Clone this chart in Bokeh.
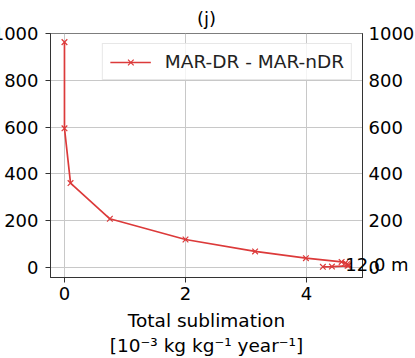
from bokeh.plotting import figure
from bokeh.models import LinearAxis, FixedTicker, Range1d, Label
from bokeh.embed import file_html
from bokeh.resources import INLINE

# ---- data ----
heights = [965, 595, 360, 207, 118, 67, 38, 22, 17, 12, 8, 5, 2, 1]
sublimation = [0.0, 0.0, 0.10, 0.75, 2.00, 3.15, 3.99, 4.58, 4.64, 4.67, 4.70, 4.68, 4.42, 4.27]
y_ticks = [0, 200, 400, 600, 800, 1000]
x_ticks = [0, 2, 4]
series_name = "MAR-DR - MAR-nDR"
title_text = "(j)"
x_label = "Total sublimation\n[10⁻³ kg kg⁻¹ year⁻¹]"
note_text = "12.0 m"
note_x = 4.64
note_y = 12

FONT = "DejaVu Sans"
FS = "18px"
FSL = "18.5px"
RED = "#dc3a3a"

p = figure(frame_width=312, frame_height=244,
           x_range=Range1d(-0.231, 4.925), y_range=Range1d(-45, 1002),
           output_backend="svg", toolbar_location=None,
           min_border_left=0, min_border_right=0, min_border_top=0, min_border_bottom=0,
           title=title_text)
# the outer-left panel holding the note is pushed off-screen
p.styles = {"margin-left": "-74px", "margin-bottom": "-8px"}

p.title.align = "center"
p.title.text_font = FONT
p.title.text_font_size = FS
p.title.text_font_style = "normal"
p.title.text_color = "black"

p.line(sublimation, heights, line_color=RED, line_width=1.7, legend_label=series_name)
p.scatter(sublimation, heights, marker="x", size=8, line_color=RED, line_width=1.2,
          legend_label=series_name)

# axes
for ax in (p.xaxis[0], p.yaxis[0]):
    ax.major_label_text_font = FONT
    ax.major_label_text_font_size = FS
    ax.major_label_text_color = "black"
    ax.axis_line_color = "#333333"
    ax.major_tick_line_color = "#333333"
    ax.major_tick_out = 5
    ax.major_tick_in = 0
    ax.minor_tick_out = 0
    ax.minor_tick_in = 0

p.xaxis[0].ticker = FixedTicker(ticks=x_ticks)
p.yaxis[0].ticker = FixedTicker(ticks=y_ticks)
p.xaxis[0].major_label_standoff = 4
p.yaxis[0].major_label_standoff = 7
p.xaxis[0].axis_label = x_label
p.xaxis[0].axis_label_text_font = FONT
p.xaxis[0].axis_label_text_font_size = FSL
p.xaxis[0].axis_label_text_font_style = "normal"
p.xaxis[0].axis_label_text_color = "black"
p.xaxis[0].axis_label_standoff = 7

right = LinearAxis(ticker=FixedTicker(ticks=y_ticks))
right.major_label_text_font = FONT
right.major_label_text_font_size = FS
right.major_label_text_color = "black"
right.axis_line_color = "#333333"
right.major_tick_out = 0
right.major_tick_in = 0
right.minor_tick_out = 0
right.minor_tick_in = 0
right.major_label_standoff = 6
p.add_layout(right, "right")

p.outline_line_color = "#333333"
p.xgrid.ticker = FixedTicker(ticks=x_ticks)
p.ygrid.ticker = FixedTicker(ticks=y_ticks)
p.grid.grid_line_color = "#c8c8c8"
p.grid.grid_line_width = 1

# the note sits in its own side panel so that it is not clipped to the frame;
# its position still follows the data scales
note = Label(x=note_x, y=note_y, text=note_text, text_font=FONT, text_font_size=FS,
             text_color="black", text_align="left", text_baseline="alphabetic")
p.add_layout(note, "left")

lg = p.legend[0]
lg.location = "top_right"
lg.margin = 10
lg.padding = 7
lg.glyph_width = 41
lg.glyph_height = 20
lg.label_height = 20
lg.label_standoff = 14
lg.label_text_font = FONT
lg.label_text_font_size = FSL
lg.label_text_color = "#222222"
lg.border_line_color = "#d0d0d0"
lg.background_fill_alpha = 0.8
lg.spacing = 0

open("out.html", "w").write(file_html(p, INLINE))
